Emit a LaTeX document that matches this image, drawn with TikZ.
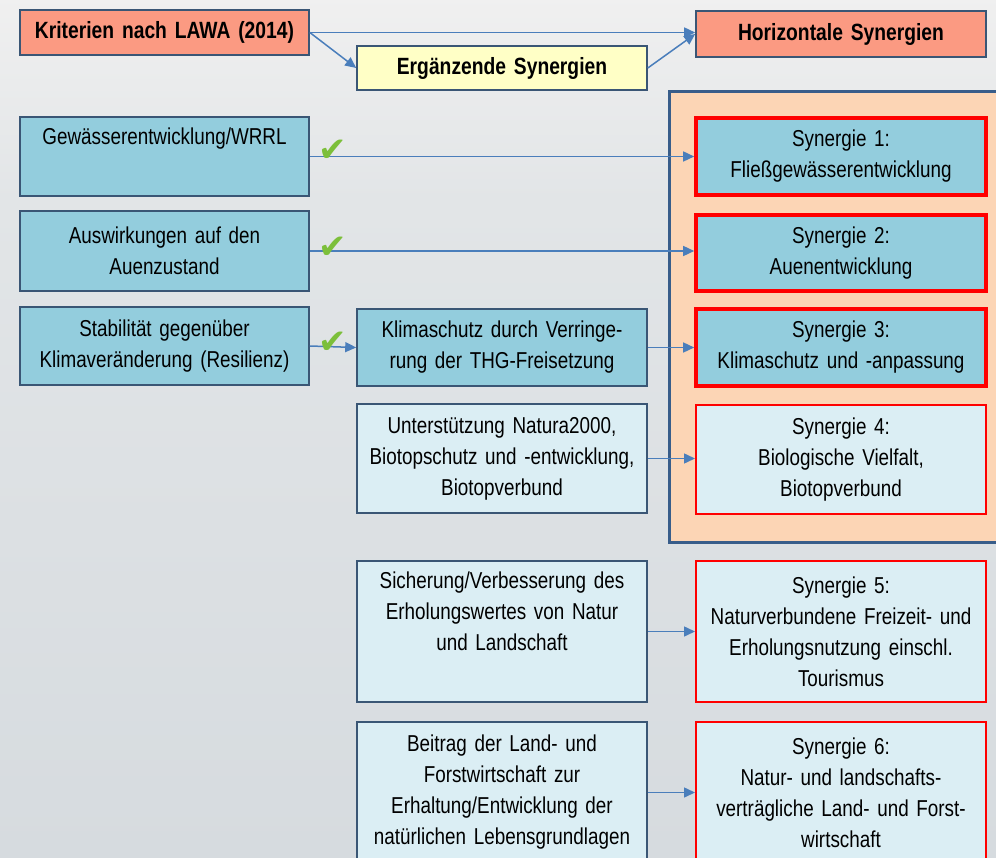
\documentclass[tikz,border=0pt]{standalone}
\usepackage{fontspec}
\setmainfont[FakeStretch=0.82, WordSpace=0.6]{Liberation Sans}
\newfontfamily\symfont{DejaVu Sans}
\usepackage{xcolor}
\usetikzlibrary{positioning,arrows.meta,calc}
\definecolor{salmon}{HTML}{FB9A82}
\definecolor{cream}{HTML}{FFFFC6}
\definecolor{midblue}{HTML}{93CDDD}
\definecolor{paleblue}{HTML}{DBEEF4}
\definecolor{peach}{HTML}{FCD5B5}
\definecolor{frame}{HTML}{3A5675}
\definecolor{panelline}{HTML}{385D8A}
\definecolor{synred}{HTML}{FF0000}
\definecolor{arrowblue}{HTML}{4A7EBB}
\definecolor{checkgreen}{HTML}{7CBF3A}

\begin{document}
\begin{tikzpicture}[
  x=1pt, y=-1pt,
  font=\fontsize{23}{31}\selectfont, >={Triangle[length=11pt,width=10pt]},
  box/.style={draw=frame, line width=1.6pt, align=center, inner sep=0pt, minimum width=290pt, text width=282pt},
  head/.style={box, minimum height=45pt, font=\fontsize{23.5}{31}\selectfont\bfseries},
  dark/.style={box, fill=midblue},
  pale/.style={box, fill=paleblue},
  syn/.style={dark, draw=synred, line width=3.6pt},
  synlite/.style={pale, draw=synred, line width=2pt},
  msg/.style={->, draw=arrowblue, fill=arrowblue, line width=1.5pt},
  check/.style={font=\symfont\fontsize{34}{34}\selectfont, text=checkgreen, inner sep=0pt},
]
\def\lx{164.5}\def\mx{502}\def\rx{841}
\useasboundingbox (0,0) rectangle (996,858);
\clip (0,0) rectangle (996,858);
\shade[top color=black!6, bottom color={rgb,255:red,226;green,229;blue,231}] (0,0) rectangle (996,200);
\shade[top color={rgb,255:red,226;green,229;blue,231}, bottom color={rgb,255:red,214;green,219;blue,223}] (0,200) rectangle (996,858);
\draw[panelline, fill=peach, line width=3pt] (669,92) rectangle (1010,542);

\node[head, fill=salmon, minimum width=289pt] (krit) at (\lx,32.5) {Kriterien nach LAWA (2014)};
\node[head, fill=cream, minimum height=44pt] (erg) at (\mx,68) {Ergänzende Synergien};
\node[head, fill=salmon, minimum height=46pt] (horiz) at (\rx,34) {Horizontale Synergien};

\node[dark, minimum width=289pt, minimum height=79pt] (gew) at (\lx,156.5) {Gewässerentwicklung/WRRL\\\strut};
\node[dark, minimum width=289pt, minimum height=80pt] (ausw) at (\lx,251) {Auswirkungen auf den\\Auenzustand};
\node[dark, minimum width=289pt, minimum height=78pt] (stab) at (\lx,346) {Stabilität gegenüber\\Klimaveränderung (Resilienz)};

\node[dark, minimum height=77pt] (klima) at (\mx,347.5) {Klimaschutz durch Verringe-\\rung der THG-Freisetzung};
\node[pale, minimum height=109pt] (natura) at (\mx,458.5) {Unterstützung Natura2000,\\Biotopschutz und -entwicklung,\\Biotopverbund};
\node[pale, minimum height=141pt] (erhol) at (\mx,631.5) {Sicherung/Verbesserung des\\Erholungswertes von Natur\\und Landschaft\\\strut};
\node[pale, minimum height=141pt] (beitrag) at (\mx,792.5) {Beitrag der Land- und\\Forstwirtschaft zur\\Erhaltung/Entwicklung der\\natürlichen Lebensgrundlagen};

\node[syn, minimum height=77pt] (syn1) at (\rx,156.5) {Synergie 1:\\Fließgewässerentwicklung};
\node[syn, minimum height=76pt] (syn2) at (\rx,253) {Synergie 2:\\Auenentwicklung};
\node[syn, minimum height=77pt] (syn3) at (\rx,347.5) {Synergie 3:\\Klimaschutz und -anpassung};
\node[synlite, minimum height=109pt] (syn4) at (\rx,459.5) {Synergie 4:\\Biologische Vielfalt,\\Biotopverbund};
\node[synlite, minimum height=141pt] (syn5) at (\rx,631.5) {Synergie 5:\\Naturverbundene Freizeit- und\\Erholungsnutzung einschl.\\Tourismus};
\node[synlite, minimum height=141pt] (syn6) at (\rx,792.5) {Synergie 6:\\Natur- und landschafts-\\verträgliche Land- und Forst-\\wirtschaft};

\draw[msg] (krit.east) -- (krit.east -| horiz.west);
\draw[msg] (krit.east) -- (erg.west);
\draw[msg] (erg.east) -- (horiz.west);
\draw[msg] (gew.east) -- (syn1.west);
\draw[msg] (ausw.east) -- (ausw.east -| syn2.west);
\draw[msg] (stab.east) -- (klima.west);
\draw[msg] (klima.east) -- (syn3.west);
\draw[msg] (natura.east) -- (natura.east -| syn4.west);
\draw[msg] (erhol.east) -- (syn5.west);
\draw[msg] (beitrag.east) -- (syn6.west);

\node[check] (ok1) at (333,151) {✔};
\node[check] (ok2) at (333,248) {✔};
\node[check] (ok3) at (333,343) {✔};
\end{tikzpicture}
\end{document}
